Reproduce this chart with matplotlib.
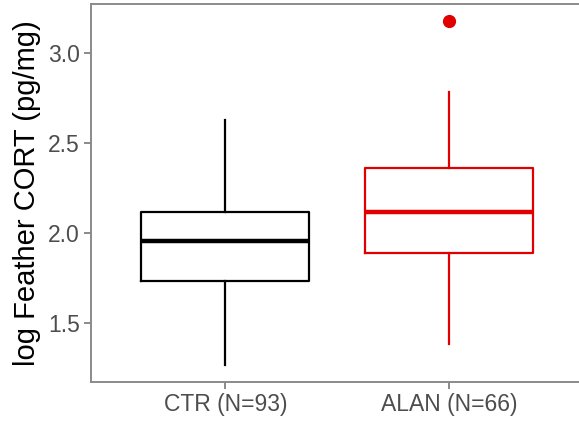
import matplotlib
matplotlib.use("Agg")
import matplotlib.pyplot as plt

# Box summary values
groups = ["CTR (N=93)", "ALAN (N=66)"]
whisker_low = [1.267, 1.383]
q1 = [1.733, 1.889]
medians = [1.956, 2.117]
q3 = [2.117, 2.361]
whisker_high = [2.628, 2.783]
outliers = [[], [3.178]]
colors = ["black", "#e00000"]

plt.rcParams["font.family"] = ["Liberation Sans", "DejaVu Sans"]

fig = plt.figure(figsize=(5.79, 4.23), dpi=100, facecolor="white")
ax = fig.add_axes([0.1572, 0.0969, 0.851, 0.8936])

for i, g in enumerate(groups):
    stats = [{
        "whislo": whisker_low[i], "q1": q1[i], "med": medians[i],
        "q3": q3[i], "whishi": whisker_high[i], "fliers": outliers[i],
        "label": g,
    }]
    c = colors[i]
    ax.bxp(stats, positions=[i + 1], widths=0.75, showcaps=False,
           boxprops=dict(color=c, linewidth=1.6),
           whiskerprops=dict(color=c, linewidth=1.6),
           medianprops=dict(color=c, linewidth=3.2),
           flierprops=dict(marker="o", markerfacecolor=c, markeredgecolor=c,
                           markersize=8.5, linestyle="none"))

ax.set_xlim(0.4, 2.6)
ax.set_ylim(1.172, 3.272)
ax.set_xticks([1, 2])
ax.set_xticklabels(groups)
ax.set_yticks([1.5, 2.0, 2.5, 3.0])
ax.set_yticklabels(["1.5", "2.0", "2.5", "3.0"])
ax.set_ylabel("log Feather CORT (pg/mg)", fontsize=21, color="black", labelpad=5)

for s in ax.spines.values():
    s.set_color("#8a8a8a")
    s.set_linewidth(1.4)
ax.tick_params(axis="both", colors="#8a8a8a", width=1.4, length=5,
               labelsize=16.5, labelcolor="#4d4d4d", pad=3)

fig.savefig("out.png", dpi=100, facecolor="white")
